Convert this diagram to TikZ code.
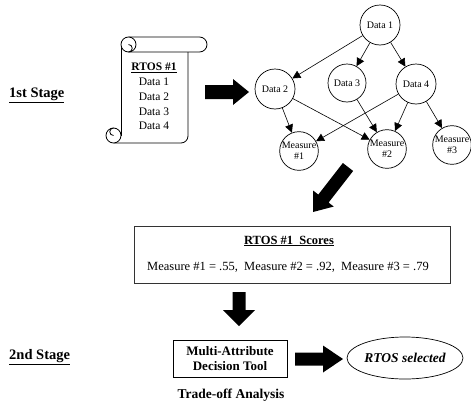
\documentclass[tikz,border=0pt]{standalone}
\usepackage{fontspec}
\setmainfont{Liberation Serif}
\usetikzlibrary{calc,arrows.meta,shapes.geometric}

% Filled block arrow: #1 tail, #2 tip, #3 shaft half-width, #4 head half-width, #5 head length
\newcommand\fatarrow[5]{%
  \coordinate (fa-neck) at ($(#2)!#5!(#1)$);
  \fill[black] ($(#1)!#3!90:(#2)$) -- ($(fa-neck)!#3!90:(#2)$) -- ($(fa-neck)!#4!90:(#2)$)
    -- (#2) -- ($(fa-neck)!#4!-90:(#2)$) -- ($(fa-neck)!#3!-90:(#2)$) -- ($(#1)!#3!-90:(#2)$) -- cycle;}

\tikzset{
  every node/.style={inner sep=0pt},
  datanode/.style={circle, draw, line width=0.7pt, minimum size=40pt,
    font=\fontsize{10}{10}\selectfont, align=center},
  measnode/.style={datanode, minimum size=38pt, font=\fontsize{10}{11}\selectfont},
  edge/.style={line width=0.6pt, -{Triangle[length=8pt,width=8pt]}},
  stagelabel/.style={font=\fontsize{14.5}{16}\selectfont\bfseries, anchor=west},
  scrolltext/.style={font=\fontsize{11.5}{13}\selectfont},
  boxtext/.style={font=\fontsize{12.5}{14}\selectfont},
  outline/.style={line width=0.8pt},
}

\begin{document}
\begin{tikzpicture}[x=1pt,y=-1pt]
\useasboundingbox (0,0) rectangle (471,407);

% stage labels
\node[stagelabel] (stage1) at (9,95) {\underline{1st Stage}};
\node[stagelabel] (stage2) at (9,357) {\underline{2nd Stage}};

% scroll holding the RTOS data list
\draw[outline] (121,44.5) -- (121,135.5);
\draw[outline, rounded corners=7pt] (113.5,143) -- (188,143) -- (188,52);
\draw[outline, rounded corners=7.5pt] (128.5,37) -- (207,37) -- (207,52) -- (128.5,52);
\draw[outline, fill=white] (128.5,44.5) circle[radius=7.5];
\draw[outline] (128.5,44.5) arc[start angle=-90, end angle=90, radius=3.75];
\draw[outline, fill=white] (113.5,135.5) circle[radius=7.5];
\draw[outline] (113.5,135.5) arc[start angle=90, end angle=270, radius=3.75];
\node[scrolltext, font=\fontsize{11.5}{13}\selectfont\bfseries] (rtos) at (154,68) {\underline{RTOS \#1}};
\node[scrolltext] (l1) at (154,82) {Data 1};
\node[scrolltext] (l2) at (154,97) {Data 2};
\node[scrolltext] (l3) at (154,111.5) {Data 3};
\node[scrolltext] (l4) at (154,126) {Data 4};

% data graph
\node[datanode] (d1) at (380,25) {Data 1};
\node[datanode] (d2) at (275,89) {Data 2};
\node[datanode, minimum size=38pt] (d3) at (347,83) {Data 3};
\node[datanode] (d4) at (416,84) {Data 4};
\node[measnode] (m1) at (299,151) {Measure\\\#1};
\node[measnode] (m2) at (387,149) {Measure\\\#2};
\node[measnode, minimum size=36pt] (m3) at (452,145) {Measure\\\#3};

\draw[edge] (d1) -- (d2);
\draw[edge] (d1) -- (d3);
\draw[edge] (d1) -- (d4);
\draw[edge] (d2) -- (m1);
\draw[edge] (d2) -- (m2);
\draw[edge] (d3) -- (m2);
\draw[edge] (d4) -- (m1);
\draw[edge] (d4) -- (m2);
\draw[edge] (d4) -- (m3);

% scores box
\node[draw=black!80, line width=0.8pt, minimum width=316pt, minimum height=57pt] (scores) at (292,254.5) {};
\node[boxtext, font=\fontsize{12.5}{14}\selectfont\bfseries] (scoretitle) at (289,241) {\underline{RTOS \#1\ \ Scores}};
\node[boxtext] (scoreline) at (288,267) {Measure \#1 = .55,\ \ Measure \#2 = .92,\ \ Measure \#3 = .79};

% decision tool and result
\node[draw, line width=0.8pt, minimum width=114pt, minimum height=37pt, align=center,
      font=\fontsize{13}{15}\selectfont\bfseries] (tool) at (230,358.5) {Multi-Attribute\\Decision Tool};
\node[ellipse, draw, line width=0.7pt, minimum width=116pt, minimum height=42pt,
      font=\fontsize{13.5}{15}\selectfont\bfseries\itshape] (result) at (405,358) {RTOS selected};
\node[font=\fontsize{13.5}{15}\selectfont\bfseries] (tradeoff) at (231,395) {Trade-off Analysis};

% block arrows between the stages
\coordinate (a1tail) at (205,92);
\coordinate (a1tip) at (249,92);
\coordinate (a2tail) at (348,167);
\coordinate (a2tip) at (313,212);
\coordinate (a3tail) at (239,292);
\coordinate (a3tip) at (239,326);
\coordinate (a4tail) at (295,359);
\coordinate (a4tip) at (343,359);
\fatarrow{a1tail}{a1tip}{7pt}{13pt}{16pt}
\fatarrow{a2tail}{a2tip}{6.5pt}{13pt}{17pt}
\fatarrow{a3tail}{a3tip}{6.5pt}{16pt}{16pt}
\fatarrow{a4tail}{a4tip}{6.5pt}{13.5pt}{20pt}
\end{tikzpicture}
\end{document}
